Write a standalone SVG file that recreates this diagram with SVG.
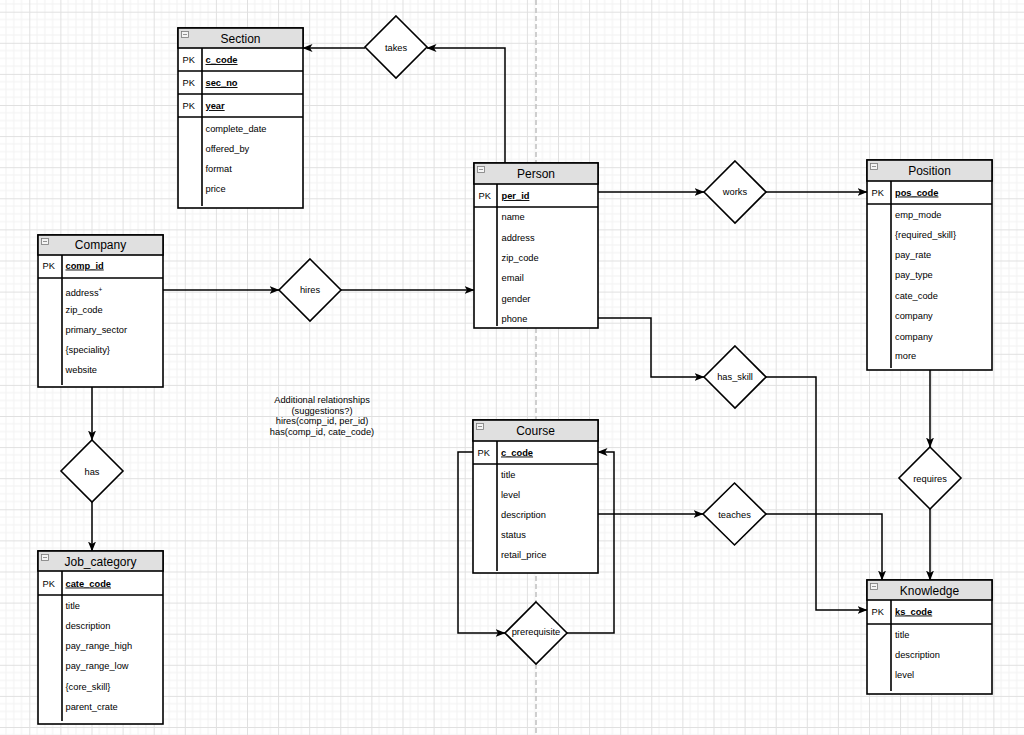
<svg xmlns="http://www.w3.org/2000/svg" width="1024" height="735" viewBox="0 0 1024 735">
<style>
.t{font-family:"Liberation Sans",Arial,sans-serif;font-size:9.3px;fill:#000}
.h{font-size:12px;text-anchor:middle}
.m{text-anchor:middle}
.k{font-weight:bold;text-decoration:underline}
.box{fill:#fff;stroke:#000;stroke-width:1.6}
.hd{fill:#e0e0e0;stroke:#000;stroke-width:1.6}
.ln{stroke:#000;stroke-width:1.6;fill:none}
.ic{fill:#f4f4f4;stroke:#7a7a7a;stroke-width:0.8}
.icl{stroke:#7a7a7a;stroke-width:0.8}
.c{fill:none;stroke:#000;stroke-width:1.5;marker-end:url(#a)}
.d{fill:#fff;stroke:#000;stroke-width:1.6}
</style>
<defs>
<pattern id="grid" patternUnits="userSpaceOnUse" x="29.3" y="11.7" width="31.1" height="31.1">
<path d="M7.78,0V31.1M15.55,0V31.1M23.33,0V31.1M0,7.78H31.1M0,15.55H31.1M0,23.33H31.1" stroke="#f2f2f2" stroke-width="1" fill="none"/>
<path d="M0.5,0V31.1M0,0.5H31.1" stroke="#e0e0e0" stroke-width="1" fill="none"/>
</pattern>
<marker id="a" markerUnits="userSpaceOnUse" markerWidth="10" markerHeight="8" refX="9.5" refY="4" orient="auto">
<path d="M0,0L10,4L0,8L2.5,4Z" fill="#000"/>
</marker>
</defs>
<rect width="1024" height="735" fill="#fff"/>
<rect width="1024" height="735" fill="url(#grid)"/>
<line x1="536" y1="0" x2="536" y2="735" stroke="#c4c4c4" stroke-width="1.6" stroke-dasharray="5,3"/>

<g id="connectors">
<path class="c" d="M505,163V48H427"/>
<path class="c" d="M365,48H303"/>
<path class="c" d="M163,290H279"/>
<path class="c" d="M341,290H474"/>
<path class="c" d="M598,192H704"/>
<path class="c" d="M766,192H867"/>
<path class="c" d="M598,318H651V377H704"/>
<path class="c" d="M766,377H816V610H867"/>
<path class="c" d="M598,514H703"/>
<path class="c" d="M766,514H882V580"/>
<path class="c" d="M930,370V447"/>
<path class="c" d="M930,509V580"/>
<path class="c" d="M92,387V440"/>
<path class="c" d="M92,502V551"/>
<path class="c" d="M474,452H458V633H505"/>
<path class="c" d="M567,633H614V452H598"/>
</g>

<g id="section">
<rect class="box" x="178" y="28" width="125" height="180"/>
<rect class="hd" x="178" y="28" width="125" height="20"/>
<rect class="ic" x="181.5" y="31.5" width="7" height="6"/><line class="icl" x1="183" y1="34.5" x2="187" y2="34.5"/>
<text class="t h" x="240.5" y="42.5">Section</text>
<path class="ln" d="M178,71H303M178,94H303M178,117H303M202,48V206"/>
<text class="t" x="182.5" y="63">PK</text><text class="t k" x="205.5" y="63">c_code</text>
<text class="t" x="182.5" y="86">PK</text><text class="t k" x="205.5" y="86">sec_no</text>
<text class="t" x="182.5" y="109">PK</text><text class="t k" x="205.5" y="109">year</text>
<text class="t" x="205.5" y="131.5">complete_date</text>
<text class="t" x="205.5" y="151.5">offered_by</text>
<text class="t" x="205.5" y="171.5">format</text>
<text class="t" x="205.5" y="192">price</text>
</g>

<g id="person">
<rect class="box" x="474" y="163" width="124" height="165"/>
<rect class="hd" x="474" y="163" width="124" height="21"/>
<rect class="ic" x="477.5" y="166.5" width="7" height="6"/><line class="icl" x1="479" y1="169.5" x2="483" y2="169.5"/>
<text class="t h" x="536" y="178">Person</text>
<path class="ln" d="M474,207H598M497,184V326"/>
<text class="t" x="478.5" y="199">PK</text><text class="t k" x="501.5" y="199">per_id</text>
<text class="t" x="501.5" y="219.5">name</text>
<text class="t" x="501.5" y="240.5">address</text>
<text class="t" x="501.5" y="260.5">zip_code</text>
<text class="t" x="501.5" y="280.5">email</text>
<text class="t" x="501.5" y="301.5">gender</text>
<text class="t" x="501.5" y="321.5">phone</text>
</g>

<g id="company">
<rect class="box" x="38" y="235" width="125" height="152"/>
<rect class="hd" x="38" y="235" width="125" height="20"/>
<rect class="ic" x="41.5" y="238.5" width="7" height="6"/><line class="icl" x1="43" y1="241.5" x2="47" y2="241.5"/>
<text class="t h" x="100.5" y="249">Company</text>
<path class="ln" d="M38,278H163M62,255V385"/>
<text class="t" x="42.5" y="268.5">PK</text><text class="t k" x="65.5" y="268.5">comp_id</text>
<text class="t" x="65.5" y="295.5">address<tspan font-size="6.5" dy="-3.5">+</tspan></text>
<text class="t" x="65.5" y="312.5">zip_code</text>
<text class="t" x="65.5" y="332.5">primary_sector</text>
<text class="t" x="65.5" y="352.5">{speciality}</text>
<text class="t" x="65.5" y="372.5">website</text>
</g>

<g id="position">
<rect class="box" x="867" y="160" width="125" height="210"/>
<rect class="hd" x="867" y="160" width="125" height="21"/>
<rect class="ic" x="870.5" y="163.5" width="7" height="6"/><line class="icl" x1="872" y1="166.5" x2="876" y2="166.5"/>
<text class="t h" x="929.5" y="175">Position</text>
<path class="ln" d="M867,204H992M891,181V368"/>
<text class="t" x="871.5" y="195.5">PK</text><text class="t k" x="895" y="195.5">pos_code</text>
<text class="t" x="895" y="217.5">emp_mode</text>
<text class="t" x="895" y="237.5">{required_skill}</text>
<text class="t" x="895" y="257.5">pay_rate</text>
<text class="t" x="895" y="277.5">pay_type</text>
<text class="t" x="895" y="298.5">cate_code</text>
<text class="t" x="895" y="318.5">company</text>
<text class="t" x="895" y="339.5">company</text>
<text class="t" x="895" y="358.5">more</text>
</g>

<g id="job_category">
<rect class="box" x="38" y="551" width="125" height="173"/>
<rect class="hd" x="38" y="551" width="125" height="20"/>
<rect class="ic" x="41.5" y="554.5" width="7" height="6"/><line class="icl" x1="43" y1="557.5" x2="47" y2="557.5"/>
<text class="t h" x="100.5" y="566">Job_category</text>
<path class="ln" d="M38,595H163M62,571V721"/>
<text class="t" x="42.5" y="586.5">PK</text><text class="t k" x="65.5" y="586.5">cate_code</text>
<text class="t" x="65.5" y="608.5">title</text>
<text class="t" x="65.5" y="628.5">description</text>
<text class="t" x="65.5" y="648.5">pay_range_high</text>
<text class="t" x="65.5" y="668.5">pay_range_low</text>
<text class="t" x="65.5" y="689.5">{core_skill}</text>
<text class="t" x="65.5" y="709.5">parent_crate</text>
</g>

<g id="course">
<rect class="box" x="473" y="420" width="125" height="153"/>
<rect class="hd" x="473" y="420" width="125" height="21"/>
<rect class="ic" x="476.5" y="423.5" width="7" height="6"/><line class="icl" x1="478" y1="426.5" x2="482" y2="426.5"/>
<text class="t h" x="535.5" y="435">Course</text>
<path class="ln" d="M473,464H598M497,441V571"/>
<text class="t" x="477.5" y="455.5">PK</text><text class="t k" x="501" y="455.5">c_code</text>
<text class="t" x="501" y="477.5">title</text>
<text class="t" x="501" y="497.5">level</text>
<text class="t" x="501" y="517.5">description</text>
<text class="t" x="501" y="537.5">status</text>
<text class="t" x="501" y="557.5">retail_price</text>
</g>

<g id="knowledge">
<rect class="box" x="867" y="580" width="125" height="114"/>
<rect class="hd" x="867" y="580" width="125" height="20"/>
<rect class="ic" x="870.5" y="583.5" width="7" height="6"/><line class="icl" x1="872" y1="586.5" x2="876" y2="586.5"/>
<text class="t h" x="929.5" y="594.5">Knowledge</text>
<path class="ln" d="M867,624H992M891,600V691"/>
<text class="t" x="871.5" y="614.5">PK</text><text class="t k" x="895" y="614.5">ks_code</text>
<text class="t" x="895" y="637.5">title</text>
<text class="t" x="895" y="657.5">description</text>
<text class="t" x="895" y="677.5">level</text>
</g>

<g id="takes"><path class="d" d="M396,16L427,47L396,78L365,47Z"/><text class="t m" x="396" y="50.5">takes</text></g>
<g id="works"><path class="d" d="M735,161L766,192L735,223L704,192Z"/><text class="t m" x="735" y="195">works</text></g>
<g id="hires"><path class="d" d="M310,259L341,290L310,321L279,290Z"/><text class="t m" x="310" y="293">hires</text></g>
<g id="has_skill"><path class="d" d="M735,346L766,377L735,408L704,377Z"/><text class="t m" x="735" y="379.5">has_skill</text></g>
<g id="teaches"><path class="d" d="M734.5,483L766,514L734.5,545L703,514Z"/><text class="t m" x="734.5" y="517.5">teaches</text></g>
<g id="requires"><path class="d" d="M930,447L961,478L930,509L899,478Z"/><text class="t m" x="930" y="481.5">requires</text></g>
<g id="has"><path class="d" d="M92,440L123,471L92,502L61,471Z"/><text class="t m" x="92" y="474.5">has</text></g>
<g id="prerequisite"><path class="d" d="M536,602L567,633L536,664L505,633Z"/><text class="t m" x="536" y="635">prerequisite</text></g>

<g id="note">
<text class="t m" x="322" y="403">Additional relationships</text>
<text class="t m" x="322" y="413.5">(suggestions?)</text>
<text class="t m" x="322" y="424">hires(comp_id, per_id)</text>
<text class="t m" x="322" y="434.5">has(comp_id, cate_code)</text>
</g>
</svg>
